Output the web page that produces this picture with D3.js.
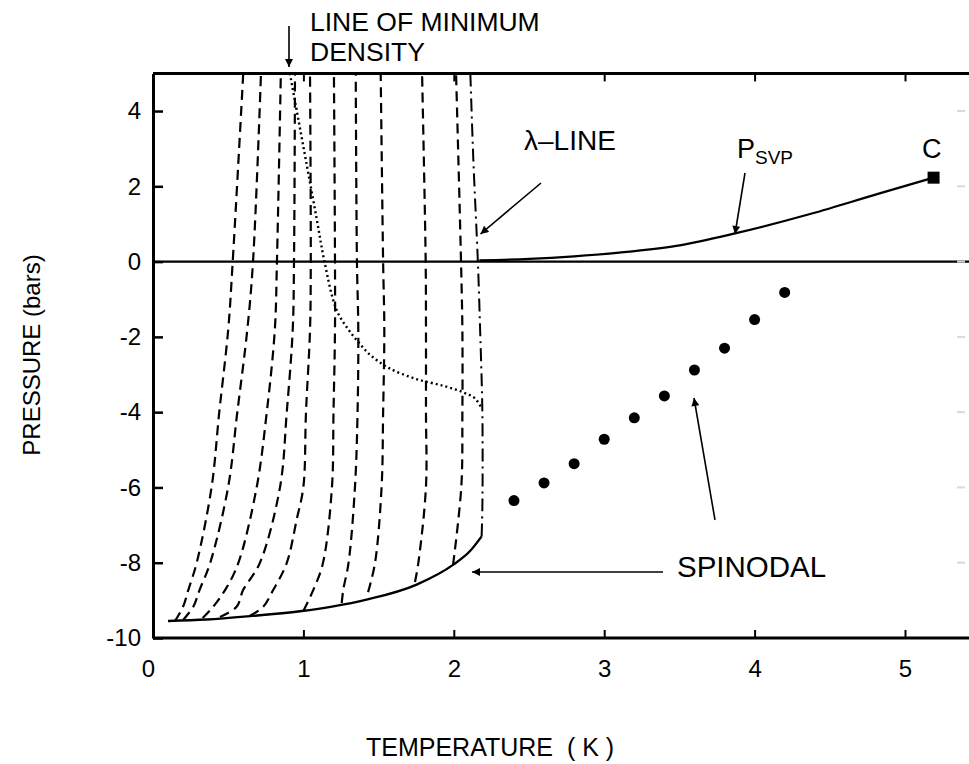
<!DOCTYPE html>
<html>
<head>
<meta charset="utf-8">
<script src="https://cdn.jsdelivr.net/npm/d3@7"></script>
<style>
  body { margin: 0; background: #fff; }
  svg { display: block; font-family: "Liberation Sans", Arial, sans-serif; }
  .axis path, .axis line { stroke: #000; }
  .axis text { font-size: 24px; fill: #000; font-family: "Liberation Sans", Arial, sans-serif; }
</style>
</head>
<body>
<svg id="chart" width="969" height="764"></svg>
<script>
// tick values
var xTicks = [0, 1, 2, 3, 4, 5];
var yTicks = [-10, -8, -6, -4, -2, 0, 2, 4];

// dashed isochores, [T, P] from the spinodal upwards
var isochores = [
  [[0.146, -9.55], [0.20, -9.17], [0.235, -8.72], [0.29, -8.01], [0.39, -5.98], [0.44, -4.02], [0.50, -1.81], [0.53, 0], [0.60, 5]],
  [[0.20, -9.52], [0.268, -9.17], [0.31, -8.72], [0.38, -8.01], [0.50, -5.98], [0.56, -4.02], [0.627, -1.81], [0.665, 0], [0.718, 5]],
  [[0.33, -9.47], [0.40, -9.17], [0.48, -8.72], [0.567, -8.01], [0.69, -5.98], [0.756, -4.02], [0.81, -1.81], [0.824, 0], [0.85, 5]],
  [[0.445, -9.44], [0.556, -9.17], [0.60, -8.72], [0.71, -8.01], [0.845, -5.98], [0.889, -4.02], [0.929, -1.81], [0.9375, 0], [0.944, 5]],
  [[0.645, -9.41], [0.733, -9.17], [0.80, -8.72], [0.889, -8.01], [0.955, -6.86], [1.0, -5.98], [1.017, -4.02], [1.044, -1.81], [1.049, 0], [1.044, 5]],
  [[1.0, -9.28], [1.066, -8.72], [1.13, -8.01], [1.19, -5.98], [1.20, -4.02], [1.21, -1.81], [1.21, 0], [1.203, 5]],
  [[1.255, -9.07], [1.265, -8.72], [1.30, -8.01], [1.343, -5.98], [1.36, -4.02], [1.365, -1.81], [1.356, 0], [1.348, 5]],
  [[1.43, -8.78], [1.476, -8.01], [1.52, -5.98], [1.53, -4.02], [1.538, -1.81], [1.53, 0], [1.514, 5]],
  [[1.742, -8.51], [1.764, -8.01], [1.815, -5.98], [1.815, -4.02], [1.815, -1.81], [1.813, 0], [1.789, 5]],
  [[1.995, -8.06], [2.05, -5.98], [2.057, -4.02], [2.057, -1.81], [2.048, 0], [2.015, 5]]
];

// solid spinodal curve below the lambda point
var spinodalCurve = [[0.10, -9.55], [0.357, -9.51], [0.645, -9.42], [0.977, -9.29], [1.199, -9.16],
  [1.42, -8.98], [1.753, -8.58], [1.997, -8.05], [2.108, -7.69], [2.185, -7.30]];

// lambda line (dash-dot)
var lambdaLine = [[2.185, -7.30], [2.19, -6.5], [2.19, -4.02], [2.175, -1.81], [2.16, 0], [2.13, 2.7], [2.11, 5]];

// line of minimum density (dotted)
var minDensityLine = [[0.91, 5], [0.97, 3.7], [1.03, 2.4], [1.09, 1.1], [1.14, 0], [1.22, -1.28], [1.30, -1.81],
  [1.37, -2.16], [1.45, -2.5], [1.57, -2.83], [1.75, -3.12], [1.93, -3.3], [2.06, -3.47], [2.14, -3.63], [2.185, -3.9]];

// saturated vapour pressure up to the critical point
var svpCurve = [[2.17, 0.03], [2.5, 0.07], [2.8, 0.14], [3.1, 0.24], [3.48, 0.42], [3.87, 0.75], [4.375, 1.27], [4.82, 1.8], [5.19, 2.23]];
var critPoint = [5.19, 2.23];

// spinodal points above T lambda
var spinodalT = [2.4, 2.6, 2.8, 3.0, 3.2, 3.4, 3.6, 3.8, 4.0, 4.2];
var spinodalP = [-6.35, -5.88, -5.37, -4.72, -4.15, -3.57, -2.88, -2.3, -1.54, -0.82];

var svg = d3.select("#chart");
var x = d3.scaleLinear().domain([0, 5]).range([153, 905]);
var y = d3.scaleLinear().domain([-10, 5]).range([638, 73.4]);
var xEnd = 969;

var defs = svg.append("defs");
defs.append("marker")
    .attr("id", "arrow")
    .attr("viewBox", "0 0 10 10")
    .attr("refX", 10).attr("refY", 5)
    .attr("markerWidth", 12).attr("markerHeight", 8)
    .attr("markerUnits", "userSpaceOnUse")
    .attr("orient", "auto")
  .append("path")
    .attr("d", "M0,0 L10,5 L0,10 Z")
    .attr("fill", "#000");

var line = d3.line()
    .x(function(d) { return x(d[0]); })
    .y(function(d) { return y(d[1]); })
    .curve(d3.curveCatmullRom.alpha(0.5));

// zero pressure line
svg.append("line")
    .attr("x1", x(0)).attr("x2", xEnd)
    .attr("y1", y(0)).attr("y2", y(0))
    .attr("stroke", "#000").attr("stroke-width", 2.2);

// isochores
svg.append("g").selectAll("path")
    .data(isochores)
    .enter().append("path")
    .attr("d", line)
    .attr("fill", "none")
    .attr("stroke", "#000")
    .attr("stroke-width", 2.2)
    .attr("stroke-dasharray", "10,6");

svg.append("path")
    .datum(minDensityLine)
    .attr("d", line)
    .attr("fill", "none")
    .attr("stroke", "#000")
    .attr("stroke-width", 2.4)
    .attr("stroke-dasharray", "2,3");

svg.append("path")
    .datum(lambdaLine)
    .attr("d", line)
    .attr("fill", "none")
    .attr("stroke", "#000")
    .attr("stroke-width", 2)
    .attr("stroke-dasharray", "13,5,2,5");

svg.append("path")
    .datum(spinodalCurve)
    .attr("d", line.curve(d3.curveMonotoneX))
    .attr("fill", "none")
    .attr("stroke", "#000")
    .attr("stroke-width", 2.4);

svg.append("path")
    .datum(svpCurve)
    .attr("d", line.curve(d3.curveMonotoneX))
    .attr("fill", "none")
    .attr("stroke", "#000")
    .attr("stroke-width", 2.2);

svg.append("rect")
    .attr("x", x(critPoint[0]) - 6).attr("y", y(critPoint[1]) - 6)
    .attr("width", 12).attr("height", 12)
    .attr("fill", "#000");

svg.append("g").selectAll("circle")
    .data(spinodalT)
    .enter().append("circle")
    .attr("cx", function(d) { return x(d); })
    .attr("cy", function(d, i) { return y(spinodalP[i]); })
    .attr("r", 5.5)
    .attr("fill", "#000");

// axes (ticks point inward)
var fmt = function(d) { return String(d); };
svg.append("g")
    .attr("class", "axis")
    .attr("transform", "translate(" + x(0) + ",0)")
    .call(d3.axisLeft(y).tickValues(yTicks).tickSize(-10).tickSizeOuter(0).tickPadding(12).tickFormat(fmt))
    .call(function(g) { g.select(".domain").attr("stroke-width", 3); g.selectAll(".tick line").attr("stroke-width", 2.5); });

var xAxis = svg.append("g")
    .attr("class", "axis")
    .attr("transform", "translate(0," + y(-10) + ")")
    .call(d3.axisBottom(x).tickValues(xTicks).tickSize(-8).tickSizeOuter(0).tickPadding(22).tickFormat(fmt));
xAxis.select(".domain").attr("d", "M" + x(0) + ",0H" + xEnd).attr("stroke-width", 3);
xAxis.selectAll(".tick line").attr("stroke-width", 2);
xAxis.selectAll(".tick").filter(function(d) { return d === 0; })
    .call(function(t) { t.select("line").remove(); t.select("text").attr("x", -5); });

var topAxis = svg.append("g")
    .attr("class", "axis")
    .attr("transform", "translate(0," + y(5) + ")")
    .call(d3.axisTop(x).tickValues(xTicks.slice(1)).tickSize(-8).tickSizeOuter(0).tickFormat(""));
topAxis.select(".domain").attr("d", "M" + x(0) + ",0H" + xEnd).attr("stroke-width", 3);
topAxis.selectAll(".tick line").attr("stroke-width", 2);

// faint marks left over from the cut-off right axis
svg.append("g").selectAll("line")
    .data(yTicks.slice(1))
    .enter().append("line")
    .attr("x1", 957).attr("x2", 965)
    .attr("y1", function(d) { return y(d); }).attr("y2", function(d) { return y(d); })
    .attr("stroke", "#d8d8d8").attr("stroke-width", 2);

// axis titles
svg.append("text")
    .attr("transform", "translate(40," + 355 + ") rotate(-90)")
    .style("text-anchor", "middle")
    .style("font-size", "24px")
    .text("PRESSURE (bars)");

svg.append("text")
    .attr("x", 366).attr("y", 756)
    .style("font-size", "25px")
    .style("white-space", "pre")
    .text("TEMPERATURE  ( K )");

// annotations
function arrow(x1, y1, x2, y2) {
  svg.append("line")
      .attr("x1", x1).attr("y1", y1).attr("x2", x2).attr("y2", y2)
      .attr("stroke", "#000").attr("stroke-width", 1.6)
      .attr("marker-end", "url(#arrow)");
}

svg.append("text").attr("x", 310).attr("y", 31).style("font-size", "26.5px").text("LINE OF MINIMUM");
svg.append("text").attr("x", 310).attr("y", 61).style("font-size", "26.5px").text("DENSITY");
arrow(289, 26, 289, 67);

svg.append("text").attr("x", 524).attr("y", 150).style("font-size", "28px").text("\u03bb\u2013LINE");
arrow(541, 183, 480.5, 234);

var psvp = svg.append("text").attr("x", 737).attr("y", 158).style("font-size", "27px");
psvp.append("tspan").text("P");
psvp.append("tspan").attr("dy", 6).style("font-size", "19px").text("SVP");
arrow(745, 173, 735, 234);

svg.append("text").attr("x", 922).attr("y", 158).style("font-size", "27px").text("C");

svg.append("text").attr("x", 677).attr("y", 577).style("font-size", "29.5px").text("SPINODAL");
arrow(663, 572, 472, 572);
arrow(715, 520, 694, 398);
</script>
</body>
</html>
